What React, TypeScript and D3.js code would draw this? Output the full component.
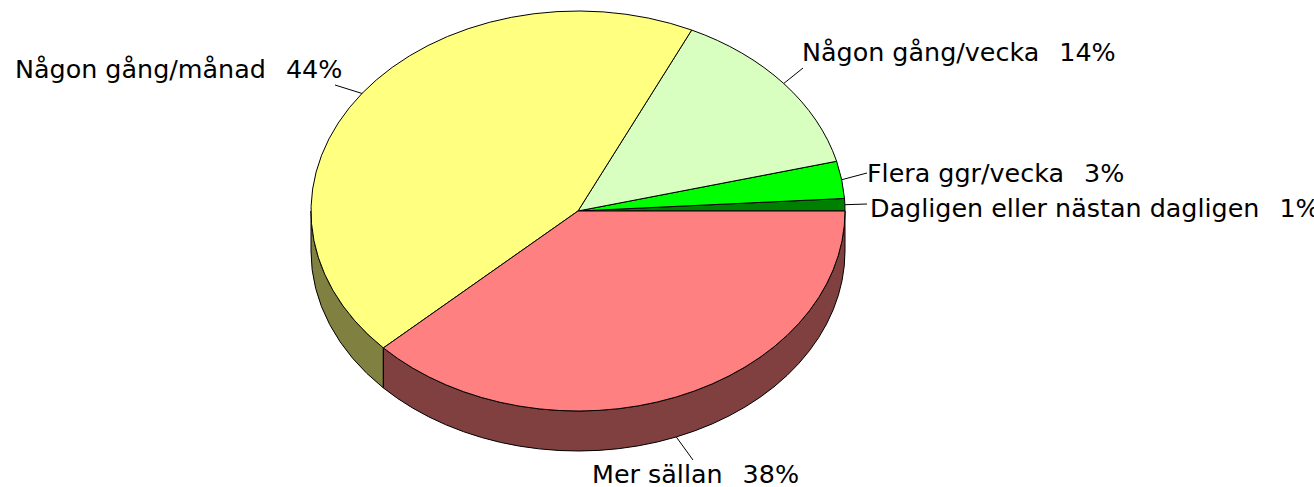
import React from "react";
import * as d3 from "d3";

const categories = [
  "Dagligen eller nästan dagligen",
  "Flera ggr/vecka",
  "Någon gång/vecka",
  "Någon gång/månad",
  "Mer sällan",
];
const values = [1, 3, 14, 44, 38];
const topColors = ["#008000", "#00FF00", "#D9FFC0", "#FFFF80", "#FF8080"];
const sideColors = ["#004000", "#008000", "#6C8060", "#808040", "#804040"];

// label layout: text anchor point and leader end point
const labelLayout = [
  { tx: 870, ty: 217, lx: 867, ly: 204 },
  { tx: 867, ty: 182, lx: 867, ly: 173 },
  { tx: 802, ty: 61, lx: 803, ly: 68 },
  { tx: 15, ty: 78, lx: 335, ly: 85 },
  { tx: 592, ty: 483, lx: 693, ly: 460 },
];

const W = 1314;
const H = 487;
const cx = 578;
const cy = 211;
const rx = 267;
const ry = 200;
const depth = 40;

function pt(t: number, dy = 0): [number, number] {
  return [cx + rx * Math.cos(t), cy - ry * Math.sin(t) + dy];
}

export default function App() {
  const pie = d3
    .pie<number>()
    .sort(null)
    .value((d) => d)
    .startAngle(0)
    .endAngle(2 * Math.PI);
  const arcs = pie(values);
  const total = d3.sum(values);

  const sides: { d: string; fill: string }[] = [];
  arcs.forEach((a, i) => {
    const s0 = Math.max(a.startAngle, Math.PI);
    const s1 = Math.min(a.endAngle, 2 * Math.PI);
    if (s1 <= s0) return;
    const p0 = pt(s0);
    const p1 = pt(s1);
    const q1 = pt(s1, depth);
    const q0 = pt(s0, depth);
    const d = `M${p0[0]},${p0[1]} A${rx},${ry} 0 0 0 ${p1[0]},${p1[1]} L${q1[0]},${q1[1]} A${rx},${ry} 0 0 1 ${q0[0]},${q0[1]} Z`;
    sides.push({ d, fill: sideColors[i] });
  });

  const tops = arcs.map((a, i) => {
    const p0 = pt(a.startAngle);
    const p1 = pt(a.endAngle);
    const large = a.endAngle - a.startAngle > Math.PI ? 1 : 0;
    const d = `M${cx},${cy} L${p0[0]},${p0[1]} A${rx},${ry} 0 ${large} 0 ${p1[0]},${p1[1]} Z`;
    return { d, fill: topColors[i] };
  });

  const labels = arcs.map((a, i) => {
    const mid = (a.startAngle + a.endAngle) / 2;
    const lower = Math.sin(mid) < -0.5;
    const p = pt(mid, lower ? depth : 0);
    const pct = d3.format(".0f")((values[i] / total) * 100);
    return {
      x1: p[0],
      y1: p[1],
      ...labelLayout[i],
      name: categories[i],
      pct: `${pct}%`,
    };
  });

  return (
    <svg
      width={W}
      height={H}
      style={{ position: "absolute", left: 0, top: 0, background: "#fff" }}
    >
      <rect x={0} y={0} width={W} height={H} fill="#fff" />
      {sides.map((s, i) => (
        <path key={"s" + i} d={s.d} fill={s.fill} stroke="#000" strokeWidth={1} strokeLinejoin="round" />
      ))}
      {tops.map((s, i) => (
        <path key={"t" + i} d={s.d} fill={s.fill} stroke="#000" strokeWidth={1} strokeLinejoin="round" />
      ))}
      {labels.map((l, i) => (
        <g key={"l" + i}>
          <line x1={l.x1} y1={l.y1} x2={l.lx} y2={l.ly} stroke="#000" strokeWidth={1} />
          <text
            x={l.tx}
            y={l.ty}
            fontFamily="'DejaVu Sans', Verdana, sans-serif"
            fontSize={25.4}
            fill="#000"
            style={{ whiteSpace: "pre" }}
          >
            {l.name}
            <tspan dx={20}>{l.pct}</tspan>
          </text>
        </g>
      ))}
    </svg>
  );
}
